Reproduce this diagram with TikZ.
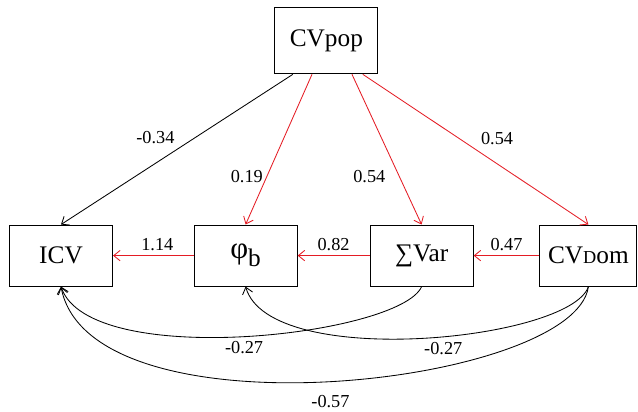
\documentclass[tikz,border=0pt]{standalone}
\usepackage{fontspec}
\setmainfont{Liberation Serif}
\usepackage{tikz}
\usetikzlibrary{arrows.meta}
\definecolor{pathred}{RGB}{228,28,36}

\begin{document}
\begin{tikzpicture}
  \useasboundingbox (0,0) rectangle (15.95,10.3);
  \begin{scope}[every node/.style={rectangle,draw,line width=0.8pt,minimum width=2.575cm,minimum height=1.525cm,font=\fontsize{18}{20}\selectfont}]
    \node (pop) at (8.16,9.28) [minimum height=1.65cm] {CVpop};
    \node (icv) at (1.525,3.91) {ICV};
    \node (phi) at (6.14,3.91) {{\fontsize{22}{24}\selectfont φ}\raisebox{-0.32em}{b}};
    \node (var) at (10.54,3.91) {∑Var};
    \node (dom) at (14.71,3.91) [minimum width=2.425cm] {CV{\fontsize{13}{15}\selectfont D}om};
  \end{scope}
  \begin{scope}[>={Straight Barb[length=1.6mm,width=2.6mm]},every edge/.style={draw=pathred,line width=0.6pt},every node/.style={font=\fontsize{13}{15}\selectfont}]
    \path[->] ([xshift=-0.84cm]pop.south) edge[draw=black] node[pos=0.42,xshift=-1cm] {-0.34} (icv.north);
    \path[->] ([xshift=-0.36cm]pop.south) edge node[pos=0.68,xshift=-0.5cm] {0.19} (phi.north);
    \path[->] ([xshift=0.64cm]pop.south) edge node[pos=0.68,xshift=-0.75cm] {0.54} (var.north);
    \path[->] ([xshift=0.91cm]pop.south) edge node[pos=0.425,xshift=0.96cm] {0.54} (dom.north);
    \path[->] (phi) edge node[pos=0.45,above] {1.14} (icv);
    \path[->] (var) edge node[above] {0.82} (phi);
    \path[->] (dom) edge node[above] {0.47} (var);
    % covariances
    \draw[->,line width=0.6pt] (var.south) .. controls +(-0.54,-1.225) and +(0.725,-2.1) .. (icv.south) node[pos=0.5,below] {-0.27};
    \draw[->,line width=0.6pt] (dom.south) .. controls +(-0.46,-1.35) and +(0.61,-2.1) .. (phi.south) node[pos=0.45,below] {-0.27};
    \draw[->,line width=0.6pt] (dom.south) .. controls +(-0.34,-2.475) and +(0.725,-3.85) .. (icv.south) node[pos=0.5,below=6pt] {-0.57};
  \end{scope}
\end{tikzpicture}
\end{document}
